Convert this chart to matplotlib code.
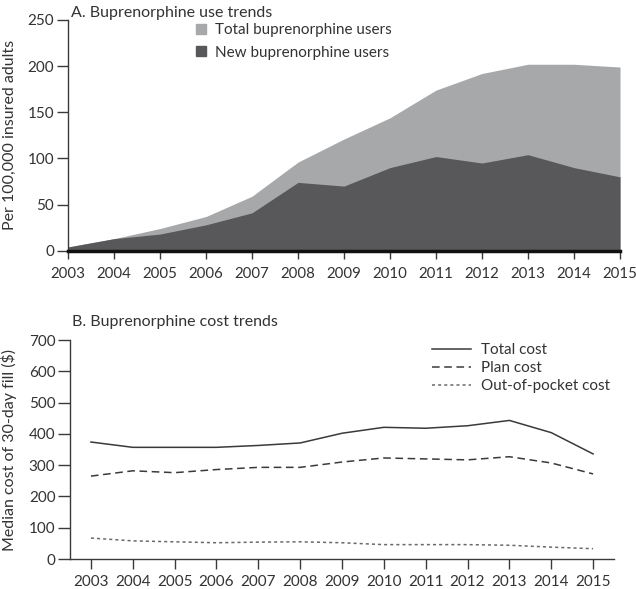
import matplotlib
matplotlib.use("Agg")
import matplotlib.pyplot as plt
from matplotlib.lines import Line2D

plt.rcParams['font.family'] = ['Lato', 'DejaVu Sans']
plt.rcParams['font.size'] = 11
plt.rcParams['text.color'] = '#333333'
plt.rcParams['axes.labelcolor'] = '#333333'
plt.rcParams['xtick.color'] = '#333333'
plt.rcParams['ytick.color'] = '#333333'

years = [2003, 2004, 2005, 2006, 2007, 2008, 2009, 2010, 2011, 2012, 2013, 2014, 2015]

# panel A: users per 100,000 insured adults
total_users = [4, 13, 24, 37, 59, 96, 121, 144, 174, 192, 202, 202, 199]
new_users = [4, 13, 18, 28, 41, 74, 70, 90, 102, 95, 104, 90, 80]

# panel B: median cost of 30-day fill ($)
total_cost = [374, 357, 357, 357, 363, 371, 402, 421, 418, 426, 443, 404, 336]
plan_cost = [265, 282, 276, 286, 293, 293, 310, 323, 320, 317, 327, 307, 272]
oop_cost = [67, 58, 55, 52, 54, 55, 52, 46, 46, 46, 44, 38, 33]

light_gray = '#a7a8aa'
dark_gray = '#58585a'
line_col = '#3a3a3a'

fig = plt.figure(figsize=(6.36, 5.89), dpi=100)

# ---- panel A
ax1 = fig.add_axes([0.1069, 0.5744, 0.868, 0.3917])
ax1.fill_between(years, 0, total_users, color=light_gray, lw=0)
ax1.fill_between(years, 0, new_users, color=dark_gray, lw=0)
ax1.set_xlim(2003, 2015)
ax1.set_ylim(0, 250)
ax1.set_xticks(years)
ax1.set_yticks(range(0, 251, 50))
for s in ['top', 'right']:
    ax1.spines[s].set_visible(False)
ax1.spines['left'].set_color(line_col)
ax1.spines['left'].set_linewidth(1.0)
ax1.spines['bottom'].set_color('#111111')
ax1.spines['bottom'].set_linewidth(2.5)
ax1.tick_params(axis='y', length=8, width=1, color=line_col, pad=2)
ax1.tick_params(axis='x', length=6, width=1, color=line_col, pad=6, labelsize=10.8)
ax1.set_ylabel('Per 100,000 insured adults', fontsize=11.5)
ax1.yaxis.set_label_coords(-0.092, 0.5)
ax1.text(0.005, 1.03, 'A. Buprenorphine use trends', transform=ax1.transAxes,
         ha='left', va='center', fontsize=11.5)
h1 = [Line2D([], [], marker='s', ls='none', color=light_gray, markersize=7),
      Line2D([], [], marker='s', ls='none', color=dark_gray, markersize=7)]
ax1.legend(h1, ['Total buprenorphine users', 'New buprenorphine users'],
           loc='upper left', bbox_to_anchor=(0.228, 0.985), frameon=False,
           handlelength=1.0, handletextpad=0.4, labelspacing=0.55,
           borderpad=0, borderaxespad=0)

# ---- panel B
ax2 = fig.add_axes([0.1101, 0.0509, 0.8553, 0.3718])
ax2.plot(years, total_cost, color=line_col, lw=1.1, ls='-', label='Total cost')
ax2.plot(years, plan_cost, color=line_col, lw=1.1, ls=(0, (5, 3)), label='Plan cost')
ax2.plot(years, oop_cost, color='#6a6a6a', lw=1.1, ls=(0, (2, 2)),
         label='Out-of-pocket cost')
ax2.set_xlim(2002.5, 2015.5)
ax2.set_ylim(0, 700)
ax2.set_xticks(years)
ax2.set_yticks(range(0, 701, 100))
for s in ['top', 'right']:
    ax2.spines[s].set_visible(False)
for s in ['left', 'bottom']:
    ax2.spines[s].set_color(line_col)
    ax2.spines[s].set_linewidth(1.0)
ax2.tick_params(axis='y', length=8.5, width=1, color=line_col, pad=2)
ax2.tick_params(axis='x', length=7, width=1, color=line_col, pad=4.5)
ax2.set_ylabel('Median cost of 30-day fill ($)', fontsize=11.5)
ax2.yaxis.set_label_coords(-0.097, 0.5)
ax2.text(0.004, 1.082, 'B. Buprenorphine cost trends', transform=ax2.transAxes,
         ha='left', va='center', fontsize=11.5)
ax2.legend(loc='upper left', bbox_to_anchor=(0.665, 0.985), frameon=False,
           handlelength=2.6, handletextpad=0.6, labelspacing=0.25,
           borderpad=0, borderaxespad=0)

fig.savefig('out.png', dpi=100)
